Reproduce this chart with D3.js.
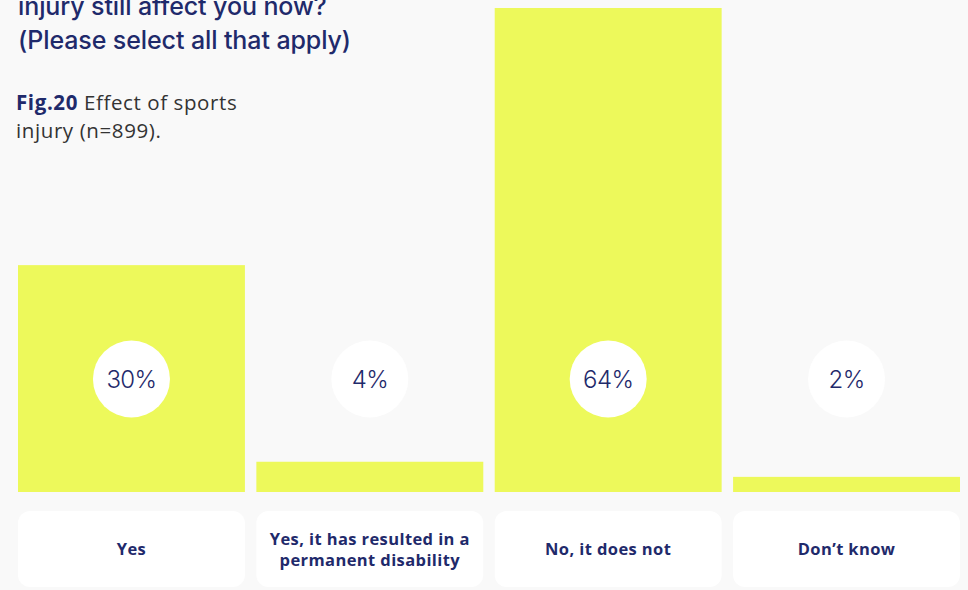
<!DOCTYPE html>
<html>
<head>
<meta charset="utf-8">
<script src="https://cdn.jsdelivr.net/npm/d3@7"></script>
<style>
  html, body { margin: 0; padding: 0; background: #f9f9f9; }
  svg { display: block; }
</style>
</head>
<body>
<svg id="chart" width="968" height="590"></svg>
<script>
// Survey answers and shares of respondents (%)
const categories = ["Yes", "Yes, it has resulted in a permanent disability", "No, it does not", "Don\u2019t know"];
const categoryLines = [["Yes"], ["Yes, it has resulted in a", "permanent disability"], ["No, it does not"], ["Don\u2019t know"]];
const values = [30, 4, 64, 2];
const titleLines = ["injury still affect you now?", "(Please select all that apply)"];
const figLabel = "Fig.20";
const captionLines = ["Effect of sports", "injury (n=899)."];

const navy = "#1f2a6b";
const barColor = "#edf95b";

const svg = d3.select("#chart");
svg.append("rect").attr("width", 968).attr("height", 590).attr("fill", "#f9f9f9");

// Title (first line runs off the top edge)
const title = svg.append("text")
  .attr("x", 18).attr("y", 15)
  .attr("fill", navy)
  .style("font-family", "Inter, 'Open Sans', sans-serif")
  .style("font-size", "25px")
  .style("font-weight", 500)
  .style("letter-spacing", "-0.1px");
titleLines.forEach((t, i) => title.append("tspan").attr("x", 18).attr("dy", i ? 34 : 0).text(t));

// Figure caption
const cap = svg.append("text")
  .attr("x", 16).attr("y", 110)
  .attr("fill", "#333")
  .style("font-family", "'Open Sans', sans-serif")
  .style("font-size", "20.5px")
  .style("letter-spacing", "0.6px");
cap.append("tspan").attr("fill", navy).style("font-weight", 700).text(figLabel + " ");
cap.append("tspan").text(captionLines[0]);
cap.append("tspan").attr("x", 16).attr("dy", 28).text(captionLines[1]);

// Scales
const x = d3.scaleBand().domain(categories).range([18, 960]).paddingInner(0.048).paddingOuter(0);
const baseline = 492;
const y = d3.scaleLinear().domain([0, 64]).range([baseline, 8]);

// Bars
svg.append("g").selectAll("rect").data(categories).join("rect")
  .attr("x", d => x(d))
  .attr("width", x.bandwidth())
  .attr("y", (d, i) => y(values[i]))
  .attr("height", (d, i) => baseline - y(values[i]))
  .attr("fill", barColor);

// Value badges
const badges = svg.append("g").selectAll("g").data(categories).join("g")
  .attr("transform", d => `translate(${x(d) + x.bandwidth() / 2},379)`);
badges.append("circle").attr("r", 38.5).attr("fill", "#fff");
badges.append("text")
  .attr("text-anchor", "middle")
  .attr("dy", "0.36em")
  .attr("fill", navy)
  .style("font-family", "Inter, sans-serif")
  .style("font-size", "24px")
  .style("font-weight", 300)
  .style("letter-spacing", "-0.6px")
  .text((d, i) => values[i] + "%");

// Category label cards
const cards = svg.append("g").selectAll("g").data(categories).join("g")
  .attr("transform", d => `translate(${x(d)},511)`);
cards.append("rect")
  .attr("width", x.bandwidth())
  .attr("height", 76)
  .attr("rx", 12)
  .attr("fill", "#fff");
cards.each(function (d, i) {
  const lines = categoryLines[i];
  const cx = x.bandwidth() / 2;
  const step = 21;
  const start = 38 - (lines.length - 1) * step / 2 + 6;
  d3.select(this).selectAll("text.label").data(lines).join("text")
    .attr("class", "label")
    .attr("x", cx)
    .attr("y", (l, j) => start + j * step)
    .attr("text-anchor", "middle")
    .attr("fill", navy)
    .style("font-family", "'Open Sans', sans-serif")
    .style("font-size", "16.5px")
    .style("font-weight", 700)
    .style("letter-spacing", "0.4px")
    .text(l => l);
});
</script>
</body>
</html>
